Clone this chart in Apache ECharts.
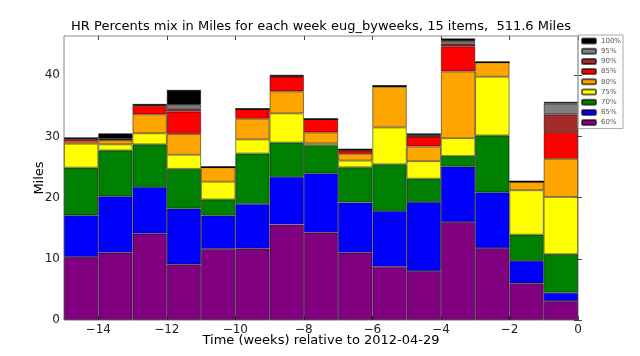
<!DOCTYPE html>
<html><head><meta charset="utf-8">
<script src="https://cdn.jsdelivr.net/npm/echarts@6/dist/echarts.min.js"></script>
<style>html,body{margin:0;padding:0;background:#fff}#c{width:640px;height:356px}</style>
</head><body><div id="c"></div>
<script>
const categories = ['-15','-14','-13','-12','-11','-10','-9','-8','-7','-6','-5','-4','-3','-2','-1'];
const xTicks = [-14,-12,-10,-8,-6,-4,-2,0];
const yTicks = [0,10,20,30,40];
const seriesNames = ['60%','65%','70%','75%','80%','85%','90%','95%','100%'];
const p60  = [10.3, 11.0, 14.1, 9.1, 11.6, 11.7, 15.6, 14.3, 11.0, 8.7, 8.0, 16.0, 11.75, 6.0, 3.1];
const p65  = [6.8, 9.2, 7.6, 9.1, 5.45, 7.25, 7.8, 9.65, 8.2, 9.1, 11.25, 9.05, 9.1, 3.65, 1.35];
const p70  = [7.8, 7.5, 7.0, 6.5, 2.65, 8.25, 5.6, 4.6, 5.75, 7.65, 3.85, 1.75, 9.3, 4.3, 6.3];
const p75  = [3.9, 1.0, 1.8, 2.3, 2.9, 2.3, 4.75, 0.3, 1.1, 6.0, 2.85, 2.9, 9.6, 7.25, 9.35];
const p80  = [0.35, 0.65, 3.1, 3.4, 2.35, 3.4, 3.6, 1.8, 1.1, 6.65, 2.4, 10.9, 2.35, 1.4, 6.25];
const p85  = [0.4, 0.15, 1.4, 3.65, 0, 1.55, 2.4, 2.15, 0.55, 0.1, 1.6, 4.1, 0, 0, 4.35];
const p90  = [0.1, 0.05, 0.1, 0.45, 0, 0, 0.1, 0, 0.1, 0, 0.1, 0.45, 0, 0, 2.9];
const p95  = [0.05, 0.1, 0.05, 0.65, 0, 0, 0.05, 0, 0, 0, 0.15, 0.4, 0, 0, 1.75];
const p100 = [0.1, 0.85, 0.15, 2.45, 0.1, 0.1, 0.15, 0.1, 0.2, 0.15, 0.3, 0.45, 0.05, 0.15, 0.3];
const seriesValues = [p60, p65, p70, p75, p80, p85, p90, p95, p100];
const colors = ['#800080','#0000ff','#008000','#ffff00','#ffa500','#ff0000','#a52a2a','#808080','#000000'];

const FONT = 'DejaVu Sans';
const chart = echarts.init(document.getElementById('c'), null, {renderer:'canvas'});
const yMax = 46.4;
const tickStyle = {show:true, inside:true, length:4, lineStyle:{color:'#444', width:1}};
chart.setOption({
  animation:false,
  backgroundColor:'#fff',
  grid:{left:64, right:62, top:36, bottom:36, show:true, borderColor:'#888', borderWidth:1, containLabel:false},
  legend:{
    data:seriesNames.slice().reverse(),
    orient:'vertical', left:578, top:35,
    itemWidth:14, itemHeight:5, itemGap:2.2,
    padding:[2,2,2,3],
    borderColor:'#aaa', borderWidth:1,
    textStyle:{fontFamily:FONT, fontSize:7, color:'#555', lineHeight:8}
  },
  xAxis:[
    {type:'category', data:categories, show:false, boundaryGap:true},
    {type:'value', min:-15, max:0, position:'bottom',
      axisLine:{show:false}, splitLine:{show:false},
      axisTick:Object.assign({customValues:xTicks}, tickStyle),
      axisLabel:{customValues:xTicks, fontFamily:FONT, fontSize:12, color:'#222', margin:4,
        formatter:v => (v < 0 ? '\u2212' + Math.abs(v) : String(v))}},
    {type:'value', min:-15, max:0, position:'top',
      axisLine:{show:false}, splitLine:{show:false},
      axisTick:Object.assign({customValues:xTicks}, tickStyle),
      axisLabel:{show:false}}
  ],
  yAxis:[
    {type:'value', min:0, max:yMax, position:'left',
      axisLine:{show:false}, splitLine:{show:false},
      axisTick:Object.assign({customValues:yTicks}, tickStyle),
      axisLabel:{customValues:yTicks, fontFamily:FONT, fontSize:12, color:'#222', margin:4}},
    {type:'value', min:0, max:yMax, position:'right',
      axisLine:{show:false}, splitLine:{show:false},
      axisTick:Object.assign({customValues:yTicks}, tickStyle),
      axisLabel:{show:false}}
  ],
  series: seriesNames.map((n,i) => ({
    name:n, type:'bar', stack:'hr', xAxisIndex:0, yAxisIndex:0,
    data:seriesValues[i], barCategoryGap:'0%',
    itemStyle:{color:colors[i], borderColor:'rgba(0,0,0,0.6)', borderWidth:0.8}
  })),
  graphic:[
    {type:'text', x:321, y:27, style:{text:'HR Percents mix in Miles for each week eug_byweeks, 15 items,  511.6 Miles',
      font:'13px "DejaVu Sans"', fill:'#000', align:'center', verticalAlign:'middle'}},
    {type:'text', x:321, y:341, style:{text:'Time (weeks) relative to 2012-04-29',
      font:'13px "DejaVu Sans"', fill:'#000', align:'center', verticalAlign:'middle'}},
    {type:'text', x:40, y:178, rotation:Math.PI/2, style:{text:'Miles',
      font:'13px "DejaVu Sans"', fill:'#000', align:'center', verticalAlign:'middle'}}
  ]
});
</script></body></html>
